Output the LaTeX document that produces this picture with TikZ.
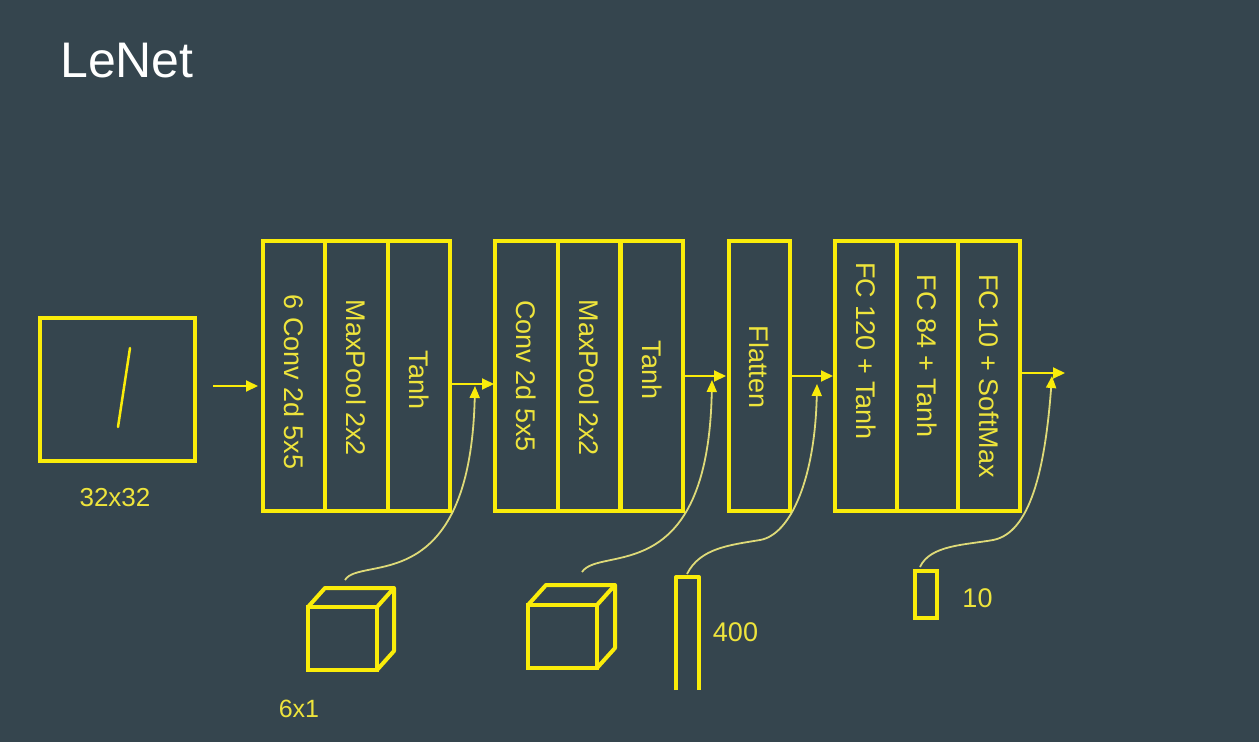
\documentclass[tikz,border=0pt]{standalone}
\usepackage{fontspec}
\setmainfont{Liberation Sans}
\usetikzlibrary{arrows.meta}
\definecolor{bg}{RGB}{53,69,78}
\definecolor{ylw}{RGB}{250,236,10}
\definecolor{ytxt}{RGB}{238,228,60}
\definecolor{ythin}{RGB}{222,218,120}
\begin{document}
\begin{tikzpicture}[x=1pt,y=-1pt,
  col/.style={draw=ylw,line width=4pt,minimum width=62.4pt,minimum height=270pt,inner sep=0pt,outer sep=0pt},
  coltext/.style={rotate=-90,text=ytxt,font=\fontsize{27}{32}\selectfont,inner sep=0pt},
  lbl/.style={text=ytxt,font=\fontsize{27}{32}\selectfont,inner sep=0pt},
  shapebox/.style={draw=ylw,line width=4pt,inner sep=0pt,outer sep=0pt},
  flow/.style={draw=ylw,line width=2pt,-{Triangle[length=12pt,width=11pt]}},
  thin/.style={draw=ythin,line width=1.8pt,-{Triangle[length=12pt,width=10pt,fill=ylw,color=ylw]}}]
\fill[bg] (0,0) rectangle (1259,742);
\useasboundingbox (0,0) rectangle (1259,742);
% title
\node[anchor=base west,text=white,font=\fontsize{50}{58}\selectfont,inner sep=0pt] (title) at (60,77) {LeNet};
% input
\node[shapebox,minimum width=155pt,minimum height=143pt] (inp) at (117.5,389.5) {};
\draw[ylw,line width=2.5pt,line cap=round] (130,348) -- (118,427);
\node[lbl,font=\fontsize{26}{30}\selectfont] (inplbl) at (115,497.5) {32x32};
% block 1
\node[col] (a1) at (294.2,376) {};
\node[col] (a2) at (356.5,376) {};
\node[col] (a3) at (418.8,376) {};
\node[coltext] (ta1) at (294.2,382) {6 Conv 2d 5x5};
\node[coltext] (ta2) at (356.5,378) {MaxPool 2x2};
\node[coltext] (ta3) at (418.8,380) {Tanh};
% block 2
\node[col] (b1) at (526.3,376) {};
\node[col] (b2) at (589,376) {};
\node[col] (b3) at (651.7,376) {};
\node[coltext] (tb1) at (526.3,376) {Conv 2d 5x5};
\node[coltext] (tb2) at (589,378) {MaxPool 2x2};
\node[coltext] (tb3) at (651.7,370) {Tanh};
% flatten
\node[col,minimum width=61pt] (f1) at (759.5,376) {};
\node[coltext] (tf1) at (759.5,367) {Flatten};
% block 4
\node[col,minimum width=61.7pt] (c1) at (865.8,376) {};
\node[col,minimum width=61.7pt] (c2) at (927.5,376) {};
\node[col,minimum width=61.7pt] (c3) at (989.2,376) {};
\node[coltext] (tc1) at (865.8,351) {FC 120 + Tanh};
\node[coltext] (tc2) at (927.5,356) {FC 84 + Tanh};
\node[coltext] (tc3) at (989.2,376) {FC 10 + SoftMax};
% flow arrows
\coordinate (i0) at (213,386);
\coordinate (i1) at (258,386);
\draw[flow] (i0) -- (i1);
\coordinate (p0) at (450,384);
\coordinate (p1) at (494,384);
\draw[flow] (p0) -- (p1);
\coordinate (q0) at (683,376);
\coordinate (q1) at (726,376);
\draw[flow] (q0) -- (q1);
\coordinate (r0) at (790,376);
\coordinate (r1) at (833,376);
\draw[flow] (r0) -- (r1);
\coordinate (s0) at (1020,373);
\coordinate (s1) at (1065,373);
\draw[flow] (s0) -- (s1);
% cube 1
\node[shapebox,minimum width=69pt,minimum height=63pt] (cube1) at (342.5,638.5) {};
\draw[ylw,line width=4pt,line join=round] (cube1.north west) -- ++(17,-19) -- ++(69,0) -- ++(0,63) -- (cube1.south east);
\draw[ylw,line width=4pt,line join=round] (cube1.north east) -- ++(17,-19);
\node[lbl,font=\fontsize{25}{30}\selectfont] (cube1lbl) at (299,709) {6x1};
% cube 2
\node[shapebox,minimum width=69pt,minimum height=63pt] (cube2) at (562.5,636.5) {};
\draw[ylw,line width=4pt,line join=round] (cube2.north west) -- ++(18,-20) -- ++(69,0) -- ++(0,63) -- (cube2.south east);
\draw[ylw,line width=4pt,line join=round] (cube2.north east) -- ++(18,-20);
% tall bar
\draw[ylw,line width=4pt,line join=round] (676,690) -- (676,577) -- (699,577) -- (699,690);
\coordinate (bartop) at (687,574);
\node[lbl] (barlbl) at (735.5,632.5) {400};
% small vector
\node[shapebox,minimum width=22pt,minimum height=47pt] (vec) at (926,594.5) {};
\node[lbl] (veclbl) at (977.5,598) {10};
% thin curves
\coordinate (k1) at (345,580);
\coordinate (e1) at (475,386);
\draw[thin] (k1) .. controls (360,555) and (470,600) .. (e1);
\coordinate (k2) at (582,572);
\coordinate (e2) at (712,380);
\draw[thin] (k2) .. controls (600,545) and (708,590) .. (e2);
\coordinate (m3) at (760,540);
\coordinate (e3) at (817,384);
\draw[ythin,line width=1.8pt] (bartop) .. controls (700,548) and (730,545) .. (m3);
\draw[thin] (m3) .. controls (790,535) and (815,480) .. (e3);
\coordinate (k4) at (920,567);
\coordinate (m4) at (993,540);
\coordinate (e4) at (1052,376);
\draw[ythin,line width=1.8pt] (k4) .. controls (930,545) and (965,545) .. (m4);
\draw[thin] (m4) .. controls (1030,533) and (1045,470) .. (e4);
\end{tikzpicture}
\end{document}
